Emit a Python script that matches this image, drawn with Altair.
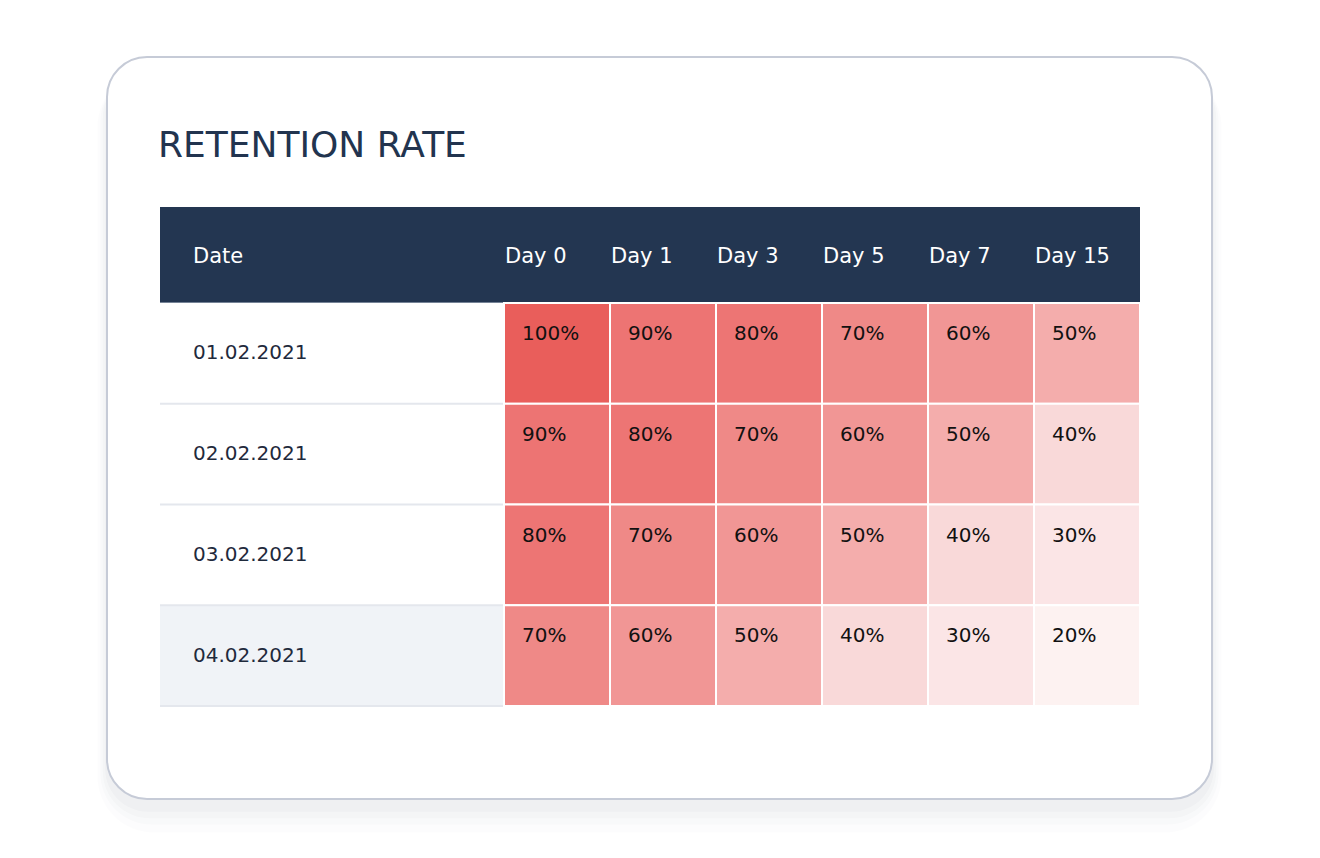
import altair as alt
import pandas as pd

# ---- data ----
dates = ["01.02.2021", "02.02.2021", "03.02.2021", "04.02.2021"]
days = ["Day 0", "Day 1", "Day 3", "Day 5", "Day 7", "Day 15"]
row_0102 = [100, 90, 80, 70, 60, 50]
row_0202 = [90, 80, 70, 60, 50, 40]
row_0302 = [80, 70, 60, 50, 40, 30]
row_0402 = [70, 60, 50, 40, 30, 20]
rows = [row_0102, row_0202, row_0302, row_0402]
title_text = "RETENTION RATE"
date_header = "Date"

records = []
for d, vals in zip(dates, rows):
    for day, v in zip(days, vals):
        records.append({"date": d, "day": day, "value": v, "label": f"{v}%"})
cells = pd.DataFrame(records)
date_df = pd.DataFrame({"date": dates, "shade": [0, 0, 0, 1]})
day_df = pd.DataFrame({"day": days})
one = alt.Data(values=[{}])

FONT = "DejaVu Sans"
NAVY = "#233651"

xs = alt.Scale(domain=days, range=[496, 1132], paddingInner=0, paddingOuter=0)
ys = alt.Scale(domain=dates, range=[295, 698], paddingInner=0, paddingOuter=0)
col_scale = alt.Scale(
    domain=[20, 30, 40, 50, 60, 70, 80, 90, 100],
    range=["#fdf2f1", "#fbe5e6", "#f9d9d9", "#f4adac", "#f19695", "#ef8987",
           "#ed7574", "#ed7473", "#e95e5b"],
)

# ---- card with soft shadow ----
shadows = []
for k, op in [(16, 0.012), (11, 0.016), (7, 0.02), (3, 0.025)]:
    shadows.append(
        alt.Chart(one).mark_rect(cornerRadius=40 + k, fill="#1c2a48", opacity=op).encode(
            x=alt.value(99 - k * 0.6), x2=alt.value(1204 + k * 0.6),
            y=alt.value(49 + 14), y2=alt.value(791 + 8 + k * 1.6),
        )
    )
card = alt.Chart(one).mark_rect(
    cornerRadius=40, fill="white", stroke="#c6cbd7", strokeWidth=2
).encode(x=alt.value(99), x2=alt.value(1204), y=alt.value(49), y2=alt.value(791))

title = alt.Chart(one).mark_text(
    text=title_text, font=FONT, fontSize=36, color="#22344f", align="left",
    baseline="alphabetic",
).encode(x=alt.value(150), y=alt.value(149))

# ---- header ----
header = alt.Chart(one).mark_rect(fill=NAVY).encode(
    x=alt.value(152), x2=alt.value(1132), y=alt.value(199), y2=alt.value(295)
)
header_line = alt.Chart(one).mark_rule(color="#c9d0dc", strokeWidth=1).encode(
    x=alt.value(152), x2=alt.value(1132), y=alt.value(295)
)
date_head = alt.Chart(one).mark_text(
    text=date_header, font=FONT, fontSize=21, color="white", align="left", baseline="middle"
).encode(x=alt.value(185), y=alt.value(249))
day_head = alt.Chart(day_df).mark_text(
    font=FONT, fontSize=21, color="white", align="left", baseline="middle", dx=1
).encode(
    x=alt.X("day:O", scale=xs, axis=None, bandPosition=0),
    y=alt.value(249),
    text="day:N",
)

# ---- date column ----
date_bg = alt.Chart(date_df).mark_rect().encode(
    x=alt.value(152), x2=alt.value(496),
    y=alt.Y("date:O", scale=ys, axis=None),
    color=alt.Color("shade:N", scale=alt.Scale(domain=[0, 1], range=["#ffffff", "#f0f3f7"]), legend=None),
)
date_lines = alt.Chart(date_df).mark_rule(color="#e4e7ed", strokeWidth=2).encode(
    x=alt.value(152), x2=alt.value(1132),
    y=alt.Y("date:O", scale=ys, axis=None, bandPosition=1),
)
date_text = alt.Chart(date_df).mark_text(
    font=FONT, fontSize=20, color="#1f2a3c", align="left", baseline="middle", dy=0
).encode(
    x=alt.value(185),
    y=alt.Y("date:O", scale=ys, axis=None, bandPosition=0.5),
    text="date:N",
)

# ---- heat cells ----
heat = alt.Chart(cells).mark_rect(stroke="white", strokeWidth=2).encode(
    x=alt.X("day:O", scale=xs, axis=None),
    y=alt.Y("date:O", scale=ys, axis=None),
    color=alt.Color("value:Q", scale=col_scale, legend=None),
)
heat_text = alt.Chart(cells).mark_text(
    font=FONT, fontSize=20, color="#111111", align="left", baseline="middle", dx=18, dy=31
).encode(
    x=alt.X("day:O", scale=xs, axis=None, bandPosition=0),
    y=alt.Y("date:O", scale=ys, axis=None, bandPosition=0),
    text="label:N",
)

chart = alt.layer(
    *shadows, card, title, header, header_line, date_head, day_head,
    date_bg, date_lines, heat, heat_text, date_text,
).resolve_scale(color="independent").properties(
    width=1304, height=842, autosize=alt.AutoSizeParams(type="none"), padding=0,
    background="white",
).configure_view(stroke=None)

chart.save("out.html", embed_options={"renderer": "svg", "actions": False})
